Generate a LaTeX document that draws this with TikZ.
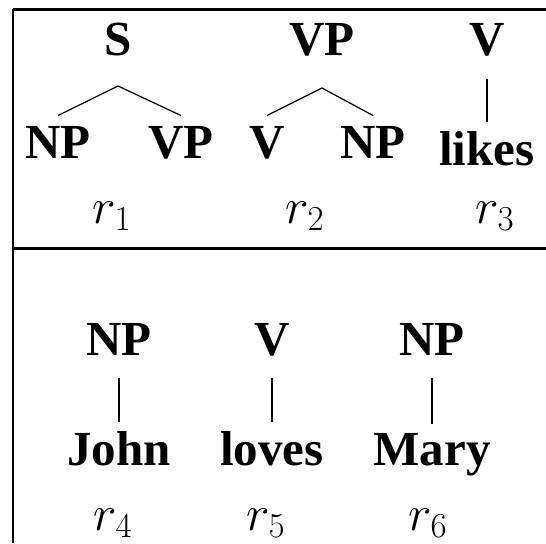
\RequirePackage{fix-cm}
\documentclass[tikz,border=0pt]{standalone}
\usepackage[no-math]{fontspec}
\setmainfont{Liberation Serif}
\usetikzlibrary{calc}

\begin{document}
\begin{tikzpicture}[x=0.5pt,y=-0.5pt,
  cat/.style={font=\fontsize{24.5}{29}\selectfont\bfseries,anchor=base,inner sep=0pt},
  rname/.style={font=\fontsize{25}{30}\selectfont,anchor=base,inner sep=0pt},
  branch/.style={line width=0.6pt},
  unary/.style={line width=1pt}]
\useasboundingbox (0,0) rectangle (546,543);
\draw[line width=1.5pt] (13,9) -- (546,9);
\draw[line width=1pt] (13,9) -- (13,543);
\draw[line width=1.5pt] (13,248) -- (546,248);
% r1
\node[cat] (S) at (118,55) {S};
\node[cat] (NP1) at (58,158) {NP};
\node[cat] (VP1) at (181,158) {VP};
\draw[branch] ($(NP1.north)+(0,-10)$) -- ($(S.base)+(0,31)$) -- ($(VP1.north)+(0,-10)$);
\node[rname] (r1) at (112,223) {$r_1$};
% r2
\node[cat] (VP2) at (322,55) {VP};
\node[cat] (V2) at (267,158) {V};
\node[cat] (NP2) at (373,158) {NP};
\draw[branch] ($(V2.north)+(0,-10)$) -- ($(VP2.base)+(0,33)$) -- ($(NP2.north)+(0,-10)$);
\node[rname] (r2) at (305,223) {$r_2$};
% r3
\node[cat] (V3) at (487,55) {V};
\node[cat] (likes) at (487,165) {likes};
\draw[unary] ($(V3.base)+(0,24)$) -- ($(likes.north)+(0,-9)$);
\node[rname] (r3) at (495,223) {$r_3$};
% r4 - r6
\node[cat] (NP4) at (119,355) {NP};
\node[cat] (John) at (119,465) {John};
\draw[unary] ($(NP4.base)+(0,23)$) -- ($(John.north)+(0,-9)$);
\node[rname] (r4) at (113,530) {$r_4$};
\node[cat] (V5) at (272,355) {V};
\node[cat] (loves) at (272,465) {loves};
\draw[unary] ($(V5.base)+(0,23)$) -- ($(loves.north)+(0,-9)$);
\node[rname] (r5) at (266,530) {$r_5$};
\node[cat] (NP6) at (432,355) {NP};
\node[cat] (Mary) at (432,465) {Mary};
\draw[unary] ($(NP6.base)+(0,23)$) -- ($(Mary.north)+(0,-9)$);
\node[rname] (r6) at (428,530) {$r_6$};
\end{tikzpicture}
\end{document}
